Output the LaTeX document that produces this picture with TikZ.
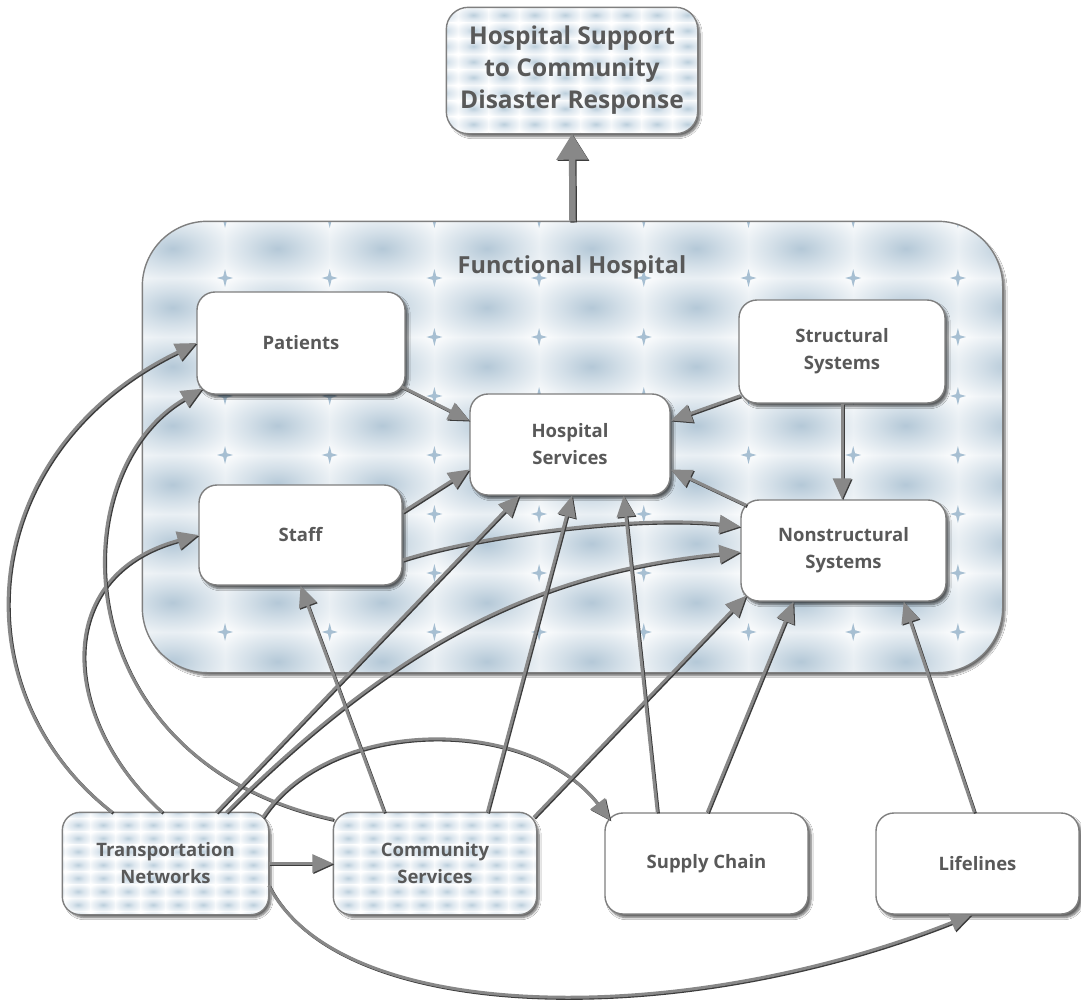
\documentclass[tikz,border=0pt]{standalone}
\usepackage{fontspec}
\setmainfont{Open Sans}
\usetikzlibrary{arrows.meta,calc,shadows.blur}

\definecolor{ink}{HTML}{595959}
\definecolor{edge}{HTML}{7F7F7F}
\definecolor{wire}{HTML}{888888}
\definecolor{wireshade}{HTML}{3C3C3C}
\definecolor{blobC}{HTML}{B4C8D7}
\definecolor{blobM}{HTML}{D3DFE8}
\definecolor{chipC}{HTML}{BCCFDC}
\definecolor{chipM}{HTML}{DCE6EE}
\definecolor{sparkle}{HTML}{A7BFD2}

% soft blue tiles used for the quilted backgrounds
\pgfdeclareradialshading{blob}{\pgfpoint{0bp}{0bp}}{color(0bp)=(blobC); color(14bp)=(blobM); color(36bp)=(white); color(50bp)=(white)}
\pgfdeclareradialshading{chip}{\pgfpoint{0bp}{0bp}}{color(0bp)=(chipC); color(12bp)=(chipM); color(32bp)=(white); color(50bp)=(white)}

% #1 shading, #2 x0, #3 y0, #4 tile width, #5 tile height, #6 columns, #7 rows
\newcommand{\tilegrid}[7]{%
  \foreach \i in {1,...,#6}{%
    \foreach \j in {1,...,#7}{%
      \shade[shading=#1] ({#2+(\i-1)*#4},{#3+(\j-1)*#5}) rectangle ++(#4,#5);
    }}}

% four-point sparkle at (#1,#2)
\newcommand{\sparkleat}[2]{%
  \fill[sparkle] ({#1},{#2-9}) -- ({#1+1.8},{#2-1.8}) -- ({#1+8},{#2}) -- ({#1+1.8},{#2+1.8})
    -- ({#1},{#2+9}) -- ({#1-1.8},{#2+1.8}) -- ({#1-8},{#2}) -- ({#1-1.8},{#2-1.8}) -- cycle;}

\tikzset{
  box/.style={rectangle, draw=edge, line width=1.4pt, rounded corners=18pt, fill=white,
    inner sep=0pt, align=center, text=ink, font=\fontsize{18.5}{27}\selectfont\bfseries,
    blur shadow={shadow xshift=3pt, shadow yshift=-3.5pt, shadow blur steps=6, shadow opacity=60}},
  label/.style={align=center, text=ink, inner sep=0pt, font=\fontsize{18.5}{27}\selectfont\bfseries},
  wire/.style={draw=wire, line width=3pt, -{Triangle[length=21pt,width=18pt]},
    preaction={draw=wireshade, line width=3pt, transform canvas={shift={(1.1pt,-1.1pt)}}}},
}

\begin{document}
\begin{tikzpicture}[x=1pt, y=-1pt]
\useasboundingbox[fill=white] (0,0) rectangle (1081,1001);

% ---- functional hospital container ----
\node[box, rounded corners=65pt, minimum width=859pt, minimum height=450pt] (fh) at (572.5,447) {};
\begin{scope}
  \clip[rounded corners=65pt] (fh.north west) rectangle (fh.south east);
  \tilegrid{blob}{120.3}{219}{104.7}{59}{9}{8}
  \foreach \k in {-1,...,8}{\foreach \m in {-1,...,7}{\sparkleat{225+\k*104.7}{278+\m*59}}}
\end{scope}
\draw[edge, line width=1.4pt, rounded corners=65pt] (fh.north west) rectangle (fh.south east);
\node[label, font=\fontsize{23.5}{30}\selectfont\bfseries] (fhtitle) at (572,267) {Functional Hospital};

% ---- top outcome box ----
\node[box, rounded corners=22pt, minimum width=250pt, minimum height=125pt] (top) at (572,70.5) {};
\begin{scope}
  \clip[rounded corners=22pt] (top.north west) rectangle (top.south east);
  \tilegrid{chip}{427.4}{-8.4}{30.6}{15.6}{10}{10}
\end{scope}
\draw[edge, line width=1.4pt, rounded corners=22pt] (top.north west) rectangle (top.south east);
\node[label, font=\fontsize{24.5}{32}\selectfont\bfseries] (toptext) at (top) {Hospital Support\\to Community\\Disaster Response};

% ---- inner hospital boxes ----
\node[box, minimum width=208pt, minimum height=102pt] (pat) at (301,343) {Patients};
\node[box, minimum width=200pt, minimum height=101pt] (hs) at (570,444.5) {Hospital\\Services};
\node[box, minimum width=206pt, minimum height=103pt] (ss) at (842,351.5) {Structural\\Systems};
\node[box, minimum width=203pt, minimum height=100pt] (staff) at (300.5,535) {Staff};
\node[box, minimum width=205pt, minimum height=101pt] (ns) at (843.5,550.5) {Nonstructural\\Systems};

% ---- external boxes ----
\node[box, minimum width=205pt, minimum height=101pt] (tn) at (165.5,863.5) {};
\begin{scope}
  \clip[rounded corners=18pt] (tn.north west) rectangle (tn.south east);
  \tilegrid{chip}{40.5}{805}{25}{13.3}{10}{9}
\end{scope}
\draw[edge, line width=1.4pt, rounded corners=18pt] (tn.north west) rectangle (tn.south east);
\node[label] (tntext) at (tn) {Transportation\\Networks};

\node[box, minimum width=202pt, minimum height=101pt] (cs) at (435,863.5) {};
\begin{scope}
  \clip[rounded corners=18pt] (cs.north west) rectangle (cs.south east);
  \tilegrid{chip}{311}{805}{24.7}{13.3}{10}{9}
\end{scope}
\draw[edge, line width=1.4pt, rounded corners=18pt] (cs.north west) rectangle (cs.south east);
\node[label] (cstext) at (cs) {Community\\Services};

\node[box, minimum width=203pt, minimum height=101pt] (sc) at (706.5,863.5) {Supply Chain};
\node[box, minimum width=203pt, minimum height=101pt] (ll) at (977.5,863.5) {Lifelines};

% ---- connectors ----
\draw[draw=wire, line width=6.5pt, -{Triangle[length=26pt,width=30pt]},
  preaction={draw=wireshade, line width=6.5pt, transform canvas={shift={(1.2pt,-1.2pt)}}}] (fh.north) -- (top.south);

\draw[wire] ($(pat.south east)+(-4,-8)$) -- ($(hs.west)+(0,-24)$);
\draw[wire] ($(ss.south west)+(2,-8)$) -- ($(hs.east)+(0,-24)$);
\draw[wire] (ss.south) -- (ss.south |- ns.north);
\draw[wire] ($(ns.north west)+(6,6)$) -- ($(hs.east)+(0,25)$);
\draw[wire] ($(staff.east)+(0,-23)$) -- ($(hs.west)+(0,25)$);
\draw[wire] ($(staff.east)+(0,25)$) .. controls (480,535) and (640,515) .. ($(ns.west)+(0,-24)$);

\draw[wire] ($(tn.north west)+(50,0)$) .. controls (-45,690) and (-25,450) .. (pat.west);
\draw[wire] ($(tn.north west)+(100,0)$) .. controls (60,720) and (50,575) .. (staff.west);
\draw[wire] ($(cs.north west)+(0,7)$) .. controls (60,760) and (60,470) .. ($(pat.south west)+(6,-6)$);
\draw[wire] ($(tn.north west)+(154,0)$) -- ($(hs.south west)+(50,0)$);
\draw[wire] ($(tn.north west)+(164,0)$) .. controls (402,638) and (541,572) .. ($(ns.west)+(0,1.5)$);
\draw[wire] ($(tn.north east)+(-6,5)$) .. controls (330,715) and (530,715) .. ($(sc.north west)+(6,8)$);
\draw[wire] (tn.east) -- (cs.west);
\draw[wire] ($(tn.east)+(0,22)$) .. controls (340,1025) and (680,1030) .. ($(ll.south west)+(96,0)$);

\draw[wire] ($(cs.north west)+(51,0)$) -- (staff.south);
\draw[wire] ($(cs.north west)+(154,0)$) -- ($(hs.south)+(2,0)$);
\draw[wire] ($(cs.north east)+(-3,5)$) -- ($(ns.south west)+(6,-6)$);

\draw[wire] ($(sc.north west)+(53,0)$) -- ($(hs.south east)+(-47,0)$);
\draw[wire] ($(sc.north west)+(103,0)$) -- ($(ns.south west)+(53,0)$);
\draw[wire] ($(ll.north west)+(99,0)$) -- ($(ns.south east)+(-43,0)$);
\end{tikzpicture}
\end{document}
